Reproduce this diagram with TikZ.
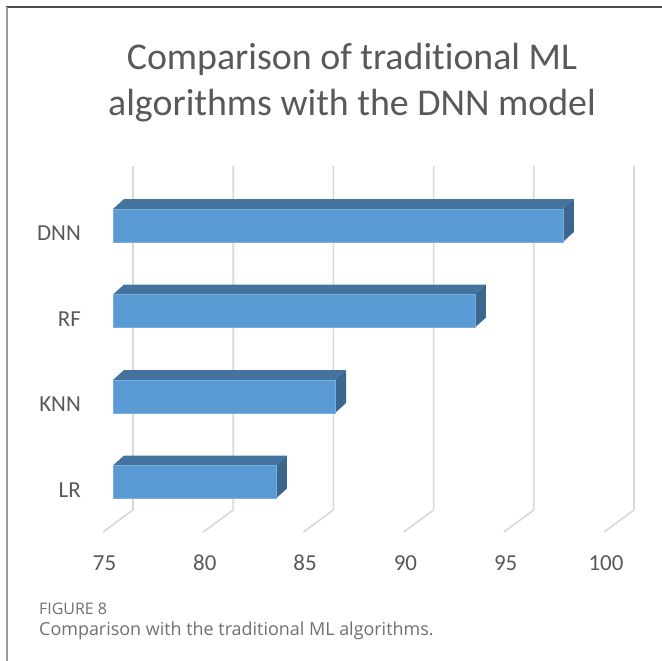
\documentclass[tikz,border=0pt]{standalone}
\usepackage{fontspec}
\setmainfont{Carlito}[RawFeature={-liga;-clig;-dlig;-calt}]
\newfontfamily\capfont{Open Sans}[RawFeature={-liga;-clig;-dlig;-calt}]
\definecolor{txtgray}{HTML}{595959}
\definecolor{gridgray}{HTML}{D9D9D9}
\definecolor{barfront}{HTML}{5B9BD5}
\definecolor{bartop}{HTML}{44739E}
\definecolor{barside}{HTML}{3A6690}
\definecolor{baredge}{HTML}{7AAEDD}
\definecolor{capgray}{HTML}{707070}
\tikzset{
  gridline/.style={draw=gridgray, line width=1.6bp, line join=round},
  titletext/.style={text=txtgray, font=\fontsize{38}{40}\selectfont, inner sep=0pt, anchor=base},
  cattext/.style={text=txtgray, font=\fontsize{23}{25}\selectfont, inner sep=0pt, anchor=base east},
  ticktext/.style={text=txtgray, font=\fontsize{23}{25}\selectfont, inner sep=0pt, anchor=base},
  captext/.style={text=capgray, inner sep=0pt, anchor=base west},
  frontface/.style={fill=barfront, draw=baredge, line width=0.6bp},
  topface/.style={fill=bartop},
  sideface/.style={fill=barside},
}
\begin{document}
\begin{tikzpicture}[x=1bp, y=-1bp]
  \useasboundingbox (0,0) rectangle (662,661);
  \fill[white] (0,0) rectangle (662,661);
  % panel frame
  \draw[draw=black!70, line width=1.2bp] (6,7) -- (662,7);
  \draw[draw=black!40, line width=2bp] (6.5,7) -- (6.5,661);

  % chart title
  \node[titletext] (title1) at (352,70) {Comparison of traditional ML};
  \node[titletext] (title2) at (352,116) {algorithms with the DNN model};

  % value gridlines with their floor segments
  \foreach \k in {0,...,5} {
    \pgfmathsetmacro{\gx}{133+100.2*\k}
    \draw[gridline] (\gx,166) -- (\gx,510) -- (\gx-30,532);
  }

  % tick labels
  \foreach \k/\t in {0/75,1/80,2/85,3/90,4/95,5/100} {
    \node[ticktext] (tick\t) at (104.5+100.3*\k,570.5) {\t};
  }

  % 3D bars
  \foreach \nm/\v/\y in {DNN/97.45/209, RF/93.06/294.5, KNN/86.08/380, LR/83.13/465.5} {
    \pgfmathsetmacro{\xr}{113+(\v-75)*20.04}
    \fill[topface] (113,\y) -- (124,\y-10) -- (\xr+11,\y-10) -- (\xr,\y) -- cycle;
    \fill[sideface] (\xr,\y) -- (\xr+11,\y-10) -- (\xr+11,\y+23) -- (\xr,\y+33) -- cycle;
    \draw[frontface] (113,\y) rectangle (\xr,\y+33);
    \node[cattext] (cat\nm) at (81,\y+31.5) {\nm};
  }

  % caption
  \node[captext, font=\capfont\fontsize{16}{18}\selectfont] (capnum) at (39,614) {FIGURE 8};
  \node[captext, font=\capfont\fontsize{18}{20}\selectfont] (captxt) at (39,635) {Comparison with the traditional ML algorithms.};
\end{tikzpicture}
\end{document}
